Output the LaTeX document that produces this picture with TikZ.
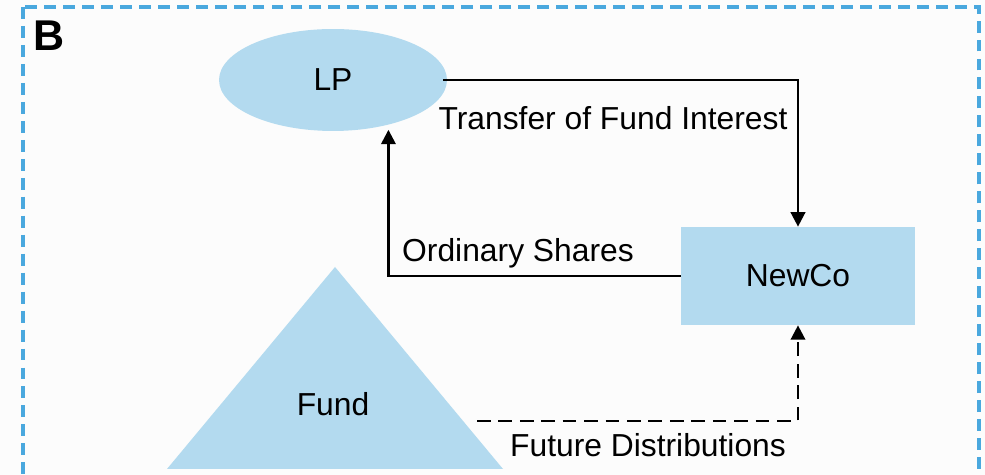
\documentclass[tikz,border=0pt]{standalone}
\usepackage{fontspec}
\setmainfont{Liberation Sans}
\usetikzlibrary{arrows.meta,shapes.geometric}
\definecolor{shapeblue}{RGB}{179,218,239}
\definecolor{frameblue}{RGB}{74,168,222}
\definecolor{bgwhite}{RGB}{252,252,252}
\begin{document}
\begin{tikzpicture}[x=0.02cm,y=-0.02cm,
  txt/.style={font=\fontsize{18.1}{21}\selectfont},
  lbl/.style={txt, inner sep=0pt, anchor=base},
  flow/.style={line width=1.4pt, -{Triangle[length=8.2pt,width=8.2pt]}},
  dflow/.style={flow, dash pattern=on 7.8pt off 4.4pt},
  shapefill/.style={fill=shapeblue, draw=none}]
\fill[bgwhite] (0,0) rectangle (985,475);
\useasboundingbox (0,0) rectangle (985,475);
\begin{scope}
  \clip (0,0) rectangle (985,475);
  \draw[frameblue, line width=1.9pt, dash pattern=on 6.8pt off 4pt] (23,7) rectangle (979,500);
\end{scope}
\node[font=\fontsize{24.5}{28}\selectfont\bfseries, inner sep=0pt] (panel) at (49,36) {B};
% shapes
\node[ellipse, shapefill, txt, minimum width=4.56cm, minimum height=2.04cm, inner sep=0pt] (lp) at (333,80) {LP};
\node[rectangle, shapefill, txt, minimum width=4.68cm, minimum height=1.96cm, inner sep=0pt] (newco) at (798,276) {NewCo};
\fill[shapeblue] (335,267) -- (503,469) -- (167,469) -- cycle;
\node[txt, inner sep=0pt] (fund) at (333,404) {Fund};
\coordinate (fundout) at (477,421);
% connectors
\draw[flow, shorten <=-2.5pt] (lp.east) -| (newco.north);
\draw[flow, shorten >=2.8pt] (newco.west) -| (lp.-39);
\draw[dflow] (fundout) -| (newco.south);
% labels
\node[lbl] (l1) at (613,130) {Transfer of Fund Interest};
\node[lbl] (l2) at (518,262) {Ordinary Shares};
\node[lbl] (l3) at (648,457) {Future Distributions};
\end{tikzpicture}
\end{document}
